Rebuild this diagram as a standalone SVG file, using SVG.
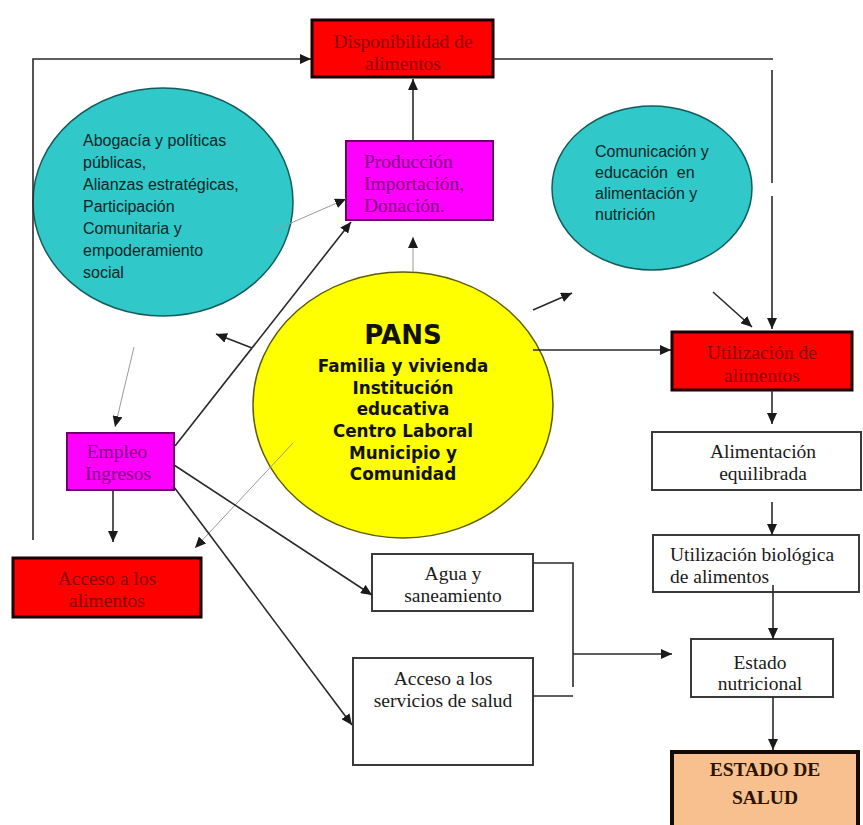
<svg xmlns="http://www.w3.org/2000/svg" width="863" height="825" viewBox="0 0 863 825">
<defs>
<marker id="ah" markerUnits="userSpaceOnUse" markerWidth="11" markerHeight="10" refX="11" refY="5" orient="auto">
<path d="M0,0 L11,5 L0,10 z" fill="#1a1a1a"/>
</marker>
<style>
.bg{fill:#ffffff}
.red{fill:#ff0000;stroke:#1a0000;stroke-width:3}
.mag{fill:#ff00ff;stroke:#660066;stroke-width:2}
.wht{fill:#ffffff;stroke:#3a3a3a;stroke-width:2}
.cyan{fill:#30c8c8;stroke:#145c5c;stroke-width:1.5}
.yel{fill:#ffff00;stroke:#5c5c00;stroke-width:1.5}
.salud{fill:#f9c08f;stroke:#140a00;stroke-width:4}
.sr{font-family:"Liberation Serif","Times New Roman",serif;font-size:19.5px}
.redt{fill:#8a0000}
.magt{fill:#7a007a}
.blk{fill:#1a1a1a}
.ss{font-family:"Liberation Sans",Arial,sans-serif;font-size:16px;fill:#0d2626}
.pans{font-family:"DejaVu Sans",Verdana,sans-serif;font-weight:bold;fill:#111111}
.ln{fill:none;stroke:#2a2a2a;stroke-width:1.6}
.gl{fill:none;stroke:#9a9a9a;stroke-width:1}
.arr{marker-end:url(#ah)}
</style>
</defs>
<rect class="bg" x="0" y="0" width="863" height="825"/>

<g id="disponibilidad">
<rect class="red" x="312" y="20" width="181" height="57"/>
<text class="sr redt" text-anchor="middle"><tspan x="403" y="48">Disponibilidad de</tspan><tspan x="403" y="70">alimentos</tspan></text>
</g>

<g id="abogacia">
<ellipse class="cyan" cx="163" cy="202" rx="130" ry="114"/>
<text class="ss"><tspan x="83" y="146">Abogacía y políticas</tspan><tspan x="83" y="168">públicas,</tspan><tspan x="83" y="190">Alianzas estratégicas,</tspan><tspan x="83" y="212">Participación</tspan><tspan x="83" y="234">Comunitaria y</tspan><tspan x="83" y="256">empoderamiento</tspan><tspan x="83" y="278">social</tspan></text>
</g>

<g id="produccion">
<rect class="mag" x="346" y="141" width="147" height="79"/>
<text class="sr magt"><tspan x="364" y="168">Producción</tspan><tspan x="364" y="190">Importación,</tspan><tspan x="364" y="212">Donación.</tspan></text>
</g>

<g id="comunicacion">
<ellipse class="cyan" cx="652" cy="188" rx="100" ry="82"/>
<text class="ss"><tspan x="595" y="157">Comunicación y</tspan><tspan x="595" y="178" xml:space="preserve">educación  en</tspan><tspan x="595" y="199">alimentación y</tspan><tspan x="595" y="220">nutrición</tspan></text>
</g>

<g id="pans">
<ellipse class="yel" cx="403" cy="405" rx="150" ry="133"/>
<text class="pans" text-anchor="middle" font-size="26" x="403" y="344">PANS</text>
<text class="pans" text-anchor="middle" font-size="16.8"><tspan x="403" y="372">Familia y vivienda</tspan><tspan x="403" y="393.5">Institución</tspan><tspan x="403" y="415">educativa</tspan><tspan x="403" y="437">Centro Laboral</tspan><tspan x="403" y="458.5">Municipio y</tspan><tspan x="403" y="480">Comunidad</tspan></text>
</g>

<g id="utilizacion">
<rect class="red" x="672" y="332" width="180" height="58"/>
<text class="sr redt" text-anchor="middle"><tspan x="762" y="359">Utilización de</tspan><tspan x="762" y="382">alimentos</tspan></text>
</g>

<g id="empleo">
<rect class="mag" x="67" y="433" width="107" height="57"/>
<text class="sr magt" text-anchor="middle"><tspan x="117" y="458">Empleo</tspan><tspan x="118" y="480">Ingresos</tspan></text>
</g>

<g id="acceso-alimentos">
<rect class="red" x="13" y="558" width="188" height="59"/>
<text class="sr redt" text-anchor="middle"><tspan x="107" y="585">Acceso a los</tspan><tspan x="107" y="607">alimentos</tspan></text>
</g>

<g id="alimentacion">
<rect class="wht" x="652" y="432" width="209" height="58"/>
<text class="sr blk" text-anchor="middle"><tspan x="763" y="458">Alimentación</tspan><tspan x="763" y="480">equilibrada</tspan></text>
</g>

<g id="biologica">
<rect class="wht" x="653" y="535" width="206" height="57"/>
<text class="sr blk"><tspan x="670" y="561">Utilización biológica</tspan><tspan x="670" y="583">de alimentos</tspan></text>
</g>

<g id="agua">
<rect class="wht" x="372" y="554" width="161" height="57"/>
<text class="sr blk" text-anchor="middle"><tspan x="453" y="580">Agua y</tspan><tspan x="453" y="602">saneamiento</tspan></text>
</g>

<g id="servicios">
<rect class="wht" x="353" y="658" width="180" height="107"/>
<text class="sr blk" text-anchor="middle"><tspan x="443" y="685">Acceso a los</tspan><tspan x="443" y="707">servicios de salud</tspan></text>
</g>

<g id="estado-nutricional">
<rect class="wht" x="691" y="639" width="142" height="58"/>
<text class="sr blk" text-anchor="middle"><tspan x="760" y="669">Estado</tspan><tspan x="760" y="690">nutricional</tspan></text>
</g>

<g id="estado-salud">
<rect class="salud" x="672" y="752" width="186" height="80"/>
<text class="sr" font-weight="bold" font-size="21" fill="#2a1505" text-anchor="middle"><tspan x="765" y="776">ESTADO DE</tspan><tspan x="765" y="804">SALUD</tspan></text>
</g>

<g id="connectors">
<polyline class="ln arr" points="33,540 33,59 311,59"/>
<polyline class="ln" points="493,59 773,59"/>
<line class="ln" x1="772" y1="70" x2="772" y2="183"/>
<line class="ln arr" x1="772" y1="196" x2="772" y2="329"/>
<line class="ln arr" x1="413" y1="141" x2="413" y2="79"/>
<line class="gl arr" x1="413" y1="272" x2="413" y2="237"/>
<line class="gl arr" x1="275" y1="230" x2="346" y2="199"/>
<line class="ln arr" x1="252" y1="348" x2="216" y2="334"/>
<line class="gl arr" x1="134" y1="347" x2="115" y2="427"/>
<line class="ln arr" x1="175" y1="446" x2="351" y2="222"/>
<line class="ln arr" x1="113" y1="490" x2="113" y2="542"/>
<line class="gl arr" x1="293" y1="443" x2="195" y2="548"/>
<line class="ln arr" x1="174" y1="465" x2="372" y2="595"/>
<line class="ln arr" x1="174" y1="487" x2="352" y2="725"/>
<line class="ln arr" x1="533" y1="310" x2="572" y2="293"/>
<line class="ln arr" x1="713" y1="292" x2="752" y2="327"/>
<line class="ln arr" x1="533" y1="350" x2="671" y2="350"/>
<line class="ln arr" x1="772" y1="390" x2="772" y2="424"/>
<line class="ln arr" x1="772" y1="502" x2="772" y2="535"/>
<line class="ln arr" x1="773" y1="585" x2="773" y2="639"/>
<line class="ln arr" x1="773" y1="697" x2="773" y2="750"/>
<polyline class="ln" points="533,563 573,563 573,687"/>
<line class="ln" x1="533" y1="696" x2="573" y2="696"/>
<line class="ln arr" x1="573" y1="654" x2="672" y2="654"/>
</g>
</svg>
